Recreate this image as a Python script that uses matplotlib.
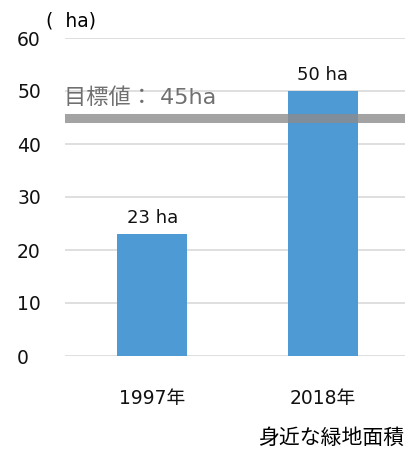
import matplotlib.pyplot as plt

plt.rcParams['font.family'] = ['DejaVu Sans', 'Noto Sans CJK JP']

years = ['1997年', '2018年']
areas = [23, 50]
area_labels = ['23 ha', '50 ha']
target = 45
target_label = '目標値： 45ha'

fig = plt.figure(figsize=(4.12, 4.51), dpi=100)
ax = fig.add_axes([65 / 412, 95 / 451, 340 / 412, 318 / 451])

x = range(len(years))
ax.bar(x, areas, width=0.41, color='#4e9ad4', zorder=2)
for i, v in enumerate(areas):
    ax.text(i, v + 1.3, area_labels[i], ha='center', va='bottom', fontsize=13, color='#111111')

# target line drawn over the bars
ax.axhline(target, color='#8c8c8c', linewidth=6.5, alpha=0.8, zorder=3)
ax.text(-0.515, target + 2.6, target_label, ha='left', va='baseline', fontsize=16, color='#707070')

ax.set_xlim(-0.51, 1.48)
ax.set_ylim(0, 60)
ax.set_yticks(range(0, 61, 10))
ax.yaxis.grid(True, color='#d9d9d9', linewidth=1.2, zorder=0)
ax.set_axisbelow(True)
for s in ax.spines.values():
    s.set_visible(False)
ax.tick_params(axis='both', length=0, labelsize=13.5, colors='#111111')
ax.tick_params(axis='y', pad=34.5)
for lab in ax.get_yticklabels():
    lab.set_horizontalalignment('left')
ax.set_xticks(list(x))
ax.set_xticklabels(years, fontsize=13.5)
ax.tick_params(axis='x', pad=24)

fig.text(46 / 412, 1 - 21 / 451, '(  ha)', fontsize=13.5, va='center', ha='left')
fig.text(404 / 412, 1 - 438 / 451, '身近な緑地面積', fontsize=15, va='center', ha='right')

fig.savefig('out.png', dpi=100)
